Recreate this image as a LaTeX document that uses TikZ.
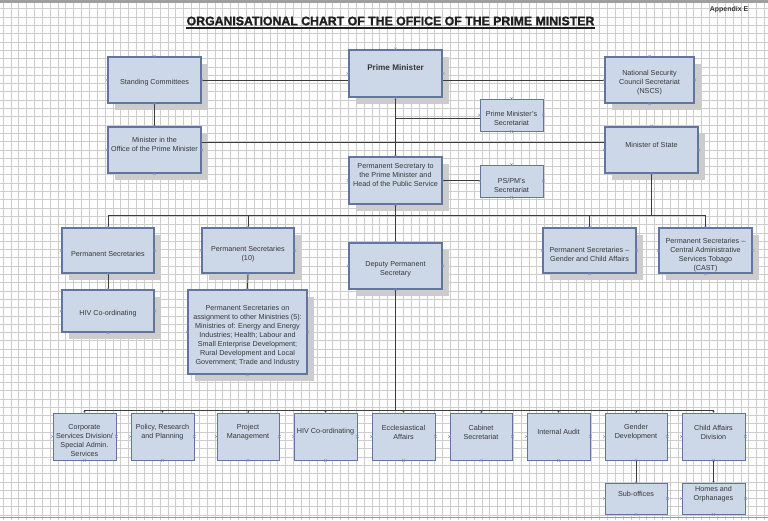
\documentclass[tikz,border=0pt]{standalone}
\usepackage{fontspec}
\setmainfont{Liberation Sans}
\newfontfamily\heavyfont{Liberation Sans}[BoldFeatures={FakeBold=1.6}]
\usetikzlibrary{shadows}
\definecolor{boxfill}{RGB}{204,216,232}
\definecolor{boxline}{RGB}{98,117,158}
\definecolor{shade}{RGB}{204,204,204}
\definecolor{gridc}{RGB}{205,205,205}
\definecolor{connc}{RGB}{60,60,60}
\definecolor{cpt}{RGB}{120,140,205}
\definecolor{txtc}{RGB}{55,55,55}
\tikzset{
  bigbox/.style={draw=boxline, line width=1.8pt, fill=boxfill, inner sep=0pt,
    drop shadow={shadow xshift=7pt, shadow yshift=-7pt, fill=shade, opacity=1}},
  smallbox/.style={draw=boxline, line width=0.8pt, fill=boxfill, inner sep=0pt},
  txt/.style={align=center, font=\fontsize{7.2}{9}\selectfont, text=txtc, inner sep=0pt},
  link/.style={draw=connc, line width=0.9pt},
  gridline/.style={draw=gridc, line width=0.7pt},
}
\newcommand\obox[8]{%
  \node[#1, minimum width=#5pt, minimum height=#6pt] (#2) at (#3,#4) {};
  \node[txt] (#2t) at ([yshift=#7pt]#2.center) {#8};}
\begin{document}
\begin{tikzpicture}[x=1pt,y=-1pt]
\useasboundingbox (0,0) rectangle (768,520);
\fill[white] (0,0) rectangle (768,520);
% grid
\foreach \i in {0,...,98} \draw[gridline] (3+\i*7.85,0) -- (3+\i*7.85,520);
\foreach \j in {0,...,63} \draw[gridline] (0,0.5+\j*8.3) -- (768,0.5+\j*8.3);
\fill[gray!75] (0,0) rectangle (768,3);
\draw[gray!80, line width=1pt] (0,517.5) -- (768,517.5);

% title
\node[font=\heavyfont\fontsize{12.3}{14}\selectfont\bfseries, text=black!88, inner sep=0pt] (title) at (390.5,21)
  {ORGANISATIONAL CHART OF THE OFFICE OF THE PRIME MINISTER};
\draw[black!88, line width=1.5pt] ([yshift=-2.2pt]title.south west) -- ([yshift=-2.2pt]title.south east);
\node[font=\fontsize{7}{8}\selectfont\bfseries, text=txtc, inner sep=0pt] (appx) at (729,10) {Appendix E};

% top level
\obox{bigbox}{sc}{154.5}{80}{93}{46}{-3}{Standing Committees}
\node[bigbox, line width=2.2pt, minimum width=93pt, minimum height=47pt] (pm) at (395.5,73.5) {};
\node[txt, font=\fontsize{8.2}{10}\selectfont\bfseries] (pmt) at ([yshift=6pt]pm.center) {Prime Minister};
\obox{bigbox}{nscs}{649.5}{80}{89}{46}{-3}{National Security\\Council Secretariat\\(NSCS)}
\obox{smallbox}{pmsec}{511.5}{115}{63}{32}{-3.5}{Prime Minister's\\Secretariat}
\obox{bigbox}{mio}{154.5}{150}{93}{46}{5.5}{Minister in the\\Office of the Prime Minister}
\obox{bigbox}{mos}{651.5}{150}{93}{46}{5}{Minister of State}
\obox{bigbox}{ps}{395.5}{180.5}{93}{47}{5.5}{Permanent Secretary to\\the Prime Minister and\\Head of the Public Service}
\obox{smallbox}{pspms}{511.5}{181}{63}{32}{-4}{PS/PM's\\Secretariat}

% second level
\obox{bigbox}{psa1}{108}{250.5}{92}{45}{-3.5}{Permanent Secretaries}
\obox{bigbox}{psten}{248}{250.5}{92}{45}{-4}{Permanent Secretaries\\(10)}
\obox{bigbox}{dps}{395.5}{266}{93}{46}{-3.5}{Deputy Permanent\\Secretary}
\obox{bigbox}{psgca}{589.5}{250.5}{93}{45}{-4}{Permanent Secretaries --\\Gender and Child Affairs}
\obox{bigbox}{cast}{705.5}{250.5}{93}{45}{-4.5}{Permanent Secretaries --\\Central Administrative\\Services Tobago\\(CAST)}
\obox{bigbox}{hivA}{108}{311}{92}{42}{-3}{HIV Co-ordinating}
\obox{bigbox}{psas}{247.5}{332}{119}{84}{-4}{Permanent Secretaries on\\assignment to other Ministries (5):\\Ministries of: Energy and Energy\\Industries; Health; Labour and\\Small Enterprise Development;\\Rural Development and Local\\Government; Trade and Industry}

% bottom row
\obox{smallbox}{bA}{84.5}{436.5}{63}{47}{-4.5}{Corporate\\Services Division/\\Special Admin.\\Services}
\obox{smallbox}{bB}{162.5}{436.5}{63}{47}{4}{Policy, Research\\and Planning}
\obox{smallbox}{bC}{248}{436.5}{62}{47}{4}{Project\\Management}
\obox{smallbox}{bD}{325.5}{436.5}{63}{47}{4.5}{HIV Co-ordinating}
\obox{smallbox}{bE}{403.5}{436.5}{63}{47}{4}{Ecclesiastical\\Affairs}
\obox{smallbox}{bF}{481}{436.5}{62}{47}{4}{Cabinet\\Secretariat}
\obox{smallbox}{bG}{558.5}{436.5}{63}{47}{4.5}{Internal Audit}
\obox{smallbox}{bH}{636}{436.5}{62}{47}{4}{Gender\\Development}
\obox{smallbox}{bI}{713.5}{436.5}{63}{47}{4}{Child Affairs\\Division}
\obox{smallbox}{bJ}{636}{498.5}{62}{31}{4.5}{Sub-offices}
\obox{smallbox}{bK}{713.5}{498.5}{63}{31}{4}{Homes and\\Orphanages}

% bus coordinates
\coordinate (busA) at (0,215);
\coordinate (busB) at (0,410);
\coordinate (pmsecL) at ([yshift=-3pt]pmsec.west);
\coordinate (mioR) at ([yshift=8pt]mio.east);

% connectors
\draw[link] (sc.east) -- (sc.east -| pm.west);
\draw[link] (nscs.west -| pm.east) -- (nscs.west);
\draw[link] (sc.south) -- (mio.north);
\draw[link] (mioR) -- (mioR -| mos.west);
\draw[link] (pm.south) -- (ps.north);
\draw[link] (pm.south |- pmsecL) -- (pmsecL);
\draw[link] (ps.east) -- (ps.east -| pspms.west);
\draw[link] (ps.south) -- (dps.north);
\draw[link] (mos.south) -- (mos.south |- busA);
\draw[link] (psa1.north |- busA) -- (cast.north |- busA);
\foreach \n in {psa1,psten,psgca,cast} \draw[link] (\n.north |- busA) -- (\n.north);
\draw[link] (psa1.south) -- (hivA.north);
\draw[link] (psten.south) -- (psas.north);
\draw[link] (dps.south) -- (dps.south |- busB);
\draw[link] (bA.north |- busB) -- (bI.north |- busB);
\foreach \n in {bA,bB,bC,bD,bE,bF,bG,bH,bI} \draw[link] (\n.north |- busB) -- (\n.north);
\draw[link] (bH.south) -- (bJ.north);
\draw[link] (bI.south) -- (bK.north);

% connection point marks
\foreach \n in {sc,pm,nscs,pmsec,mio,mos,ps,pspms,psa1,psten,dps,psgca,cast,hivA,psas,bA,bB,bC,bD,bE,bF,bG,bH,bI,bJ,bK}
  \foreach \a in {north,south,east,west}
    \draw[cpt, line width=0.4pt] ([shift={(-1.3pt,-1.3pt)}]\n.\a) -- ([shift={(1.3pt,1.3pt)}]\n.\a)
      ([shift={(-1.3pt,1.3pt)}]\n.\a) -- ([shift={(1.3pt,-1.3pt)}]\n.\a);
\end{tikzpicture}
\end{document}
